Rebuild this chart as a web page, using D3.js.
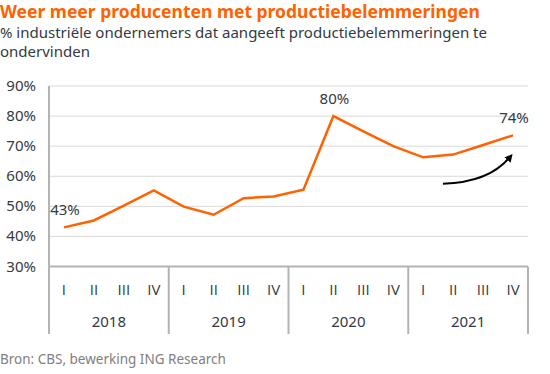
<!DOCTYPE html>
<html>
<head>
<meta charset="utf-8">
<script src="https://cdn.jsdelivr.net/npm/d3@7"></script>
<style>
  body { margin: 0; background: #fff; }
  svg { display: block; font-family: 'Noto Sans', sans-serif; }
</style>
</head>
<body>
<div id="root"></div>
<script>
const years = ['2018', '2019', '2020', '2021'];
const quarters = ['I', 'II', 'III', 'IV'];
const values = [43, 45.3, 50.2, 55.3, 49.9, 47.2, 52.7, 53.3, 55.5, 80, 74.9, 70, 66.3, 67.2, 70.4, 73.6];
const yTicks = [30, 40, 50, 60, 70, 80, 90];
const labelIdx = [0, 9, 15];
const labelText = ['43%', '80%', '74%'];
// curved arrow: start, control, end as [quarter index, value]
const arrowPts = [[12.66, 57.5], [14.2, 57.9], [14.9, 66.4]];

function drawChart() {
  const width = 550;
  const height = 374;
  const plotLeft = 49;
  const plotRight = 528;
  const plotTop = 86;
  const plotBottom = 266.5;
  const orange = '#ff6200';
  const textColor = '#333a45';

  const svg = d3.select('#root').append('svg')
    .attr('width', width)
    .attr('height', height);

  const keys = [];
  years.forEach(y => quarters.forEach(q => keys.push(y + '-' + q)));

  const x = d3.scaleBand().domain(keys).range([plotLeft, plotRight]);
  const y = d3.scaleLinear().domain([30, 90]).range([plotBottom, plotTop]);
  const xi = i => plotLeft + (i + 0.5) * x.bandwidth();

  // titles
  svg.append('text')
    .attr('x', 0).attr('y', 18)
    .attr('fill', orange)
    .attr('font-size', 17.5)
    .attr('font-weight', 'bold')
    .text('Weer meer producenten met productiebelemmeringen');
  svg.append('text')
    .attr('x', 0).attr('y', 38)
    .attr('fill', textColor)
    .attr('font-size', 15)
    .text('% industriële ondernemers dat aangeeft productiebelemmeringen te');
  svg.append('text')
    .attr('x', 0).attr('y', 57)
    .attr('fill', textColor)
    .attr('font-size', 15)
    .text('ondervinden');

  // grid
  svg.append('g')
    .selectAll('line')
    .data(yTicks.slice(1))
    .join('line')
    .attr('x1', plotLeft).attr('x2', plotRight)
    .attr('y1', d => y(d)).attr('y2', d => y(d))
    .attr('stroke', '#d9d9d9')
    .attr('stroke-width', 1);

  // y labels
  svg.append('g')
    .selectAll('text')
    .data(yTicks)
    .join('text')
    .attr('x', 36)
    .attr('y', d => y(d) + 5)
    .attr('text-anchor', 'end')
    .attr('fill', textColor)
    .attr('font-size', 15)
    .text(d => d + '%');

  // axes
  svg.append('line')
    .attr('x1', plotLeft).attr('x2', plotLeft)
    .attr('y1', plotTop).attr('y2', plotBottom)
    .attr('stroke', '#b3b3b3').attr('stroke-width', 2);
  svg.append('line')
    .attr('x1', plotLeft).attr('x2', plotRight)
    .attr('y1', plotBottom).attr('y2', plotBottom)
    .attr('stroke', '#b3b3b3').attr('stroke-width', 2);

  // year separators
  const sepX = d3.range(years.length + 1).map(i => plotLeft + i * 4 * x.bandwidth());
  svg.append('g')
    .selectAll('line')
    .data(sepX)
    .join('line')
    .attr('x1', d => d).attr('x2', d => d)
    .attr('y1', plotBottom).attr('y2', 334)
    .attr('stroke', '#b3b3b3').attr('stroke-width', 2);

  // quarter labels
  svg.append('g')
    .selectAll('text')
    .data(keys)
    .join('text')
    .attr('x', d => x(d) + x.bandwidth() / 2)
    .attr('y', 295)
    .attr('text-anchor', 'middle')
    .attr('fill', textColor)
    .attr('font-family', "'Open Sans', sans-serif")
    .attr('font-size', 15)
    .text(d => d.split('-')[1]);

  // year labels
  svg.append('g')
    .selectAll('text')
    .data(years)
    .join('text')
    .attr('x', (d, i) => (sepX[i] + sepX[i + 1]) / 2)
    .attr('y', 327)
    .attr('text-anchor', 'middle')
    .attr('fill', textColor)
    .attr('font-size', 15)
    .text(d => d);

  // line
  const line = d3.line()
    .x((d, i) => x(keys[i]) + x.bandwidth() / 2)
    .y(d => y(d));
  svg.append('path')
    .datum(values)
    .attr('d', line)
    .attr('fill', 'none')
    .attr('stroke', orange)
    .attr('stroke-width', 2.5)
    .attr('stroke-linejoin', 'miter');

  // value labels
  svg.append('g')
    .selectAll('text')
    .data(labelIdx)
    .join('text')
    .attr('x', d => x(keys[d]) + x.bandwidth() / 2 + 1)
    .attr('y', d => y(values[d]) - 12)
    .attr('text-anchor', 'middle')
    .attr('fill', textColor)
    .attr('font-size', 15)
    .text((d, i) => labelText[i]);

  // arrow
  svg.append('defs').append('marker')
    .attr('id', 'head')
    .attr('viewBox', '0 0 10 10')
    .attr('refX', 5).attr('refY', 5)
    .attr('markerWidth', 4).attr('markerHeight', 4)
    .attr('orient', 'auto')
    .append('path')
    .attr('d', 'M0,0L10,5L0,10Z')
    .attr('fill', '#000');
  const p = d3.path();
  const ap = arrowPts.map(d => [xi(d[0]), y(d[1])]);
  p.moveTo(ap[0][0], ap[0][1]);
  p.quadraticCurveTo(ap[1][0], ap[1][1], ap[2][0], ap[2][1]);
  svg.append('path')
    .attr('d', p.toString())
    .attr('fill', 'none')
    .attr('stroke', '#000')
    .attr('stroke-width', 2)
    .attr('marker-end', 'url(#head)');

  // source
  svg.append('text')
    .attr('x', 0).attr('y', 364)
    .attr('fill', '#808080')
    .attr('font-size', 13.5)
    .text('Bron: CBS, bewerking ING Research');
}

window.addEventListener('load', drawChart);
</script>
</body>
</html>
